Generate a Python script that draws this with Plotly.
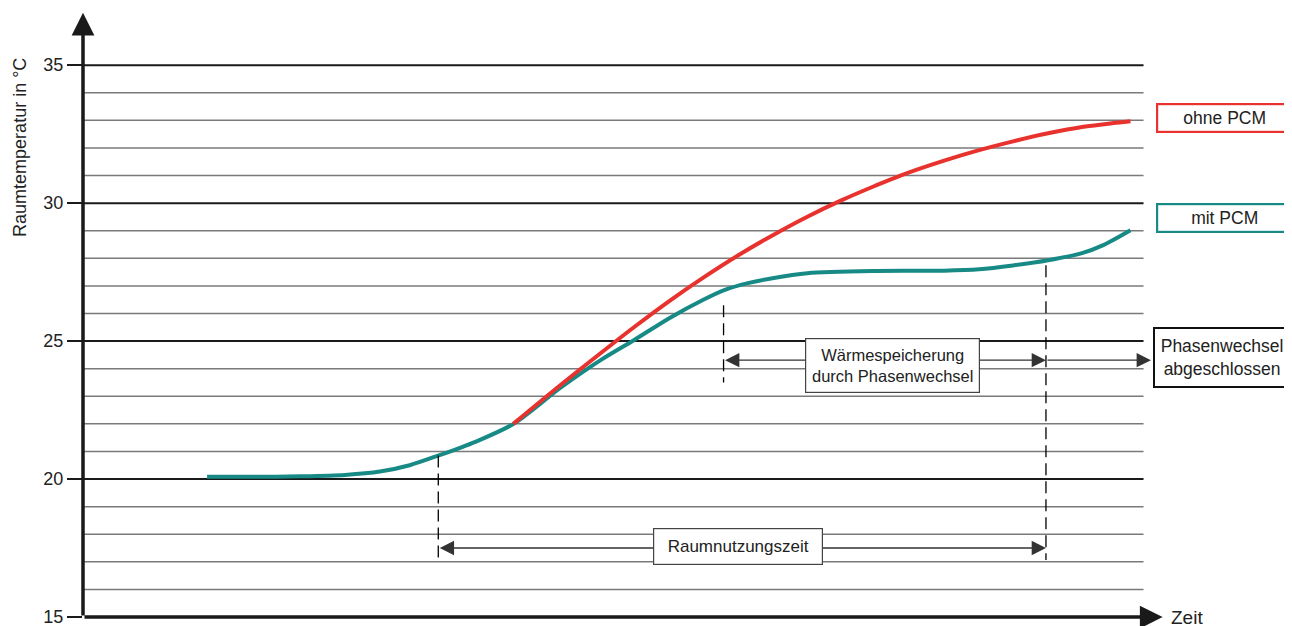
import plotly.graph_objects as go

# ---- data ----
time_mit = [11.7, 15.8, 20.5, 24.7, 28.0, 30.8, 33.5, 37.0, 40.6, 45.0, 48.77, 51.98, 55.28, 58.49, 60.47,
            62.7, 65.0, 68.3, 74.7, 81.2, 84.5, 87.7, 91.0, 94.2, 96.2, 98.77]
temp_mit = [20.08, 20.08, 20.1, 20.15, 20.27, 20.5, 20.85, 21.35, 22.0, 23.3, 24.3, 25.04, 25.83, 26.5, 26.85,
            27.1, 27.28, 27.46, 27.54, 27.55, 27.6, 27.74, 27.93, 28.19, 28.48, 29.02]
time_ohne = [40.57, 45.0, 48.77, 51.98, 55.28, 58.49, 61.79, 65.0, 68.3, 71.5, 74.7, 77.08, 81.2, 84.5, 87.7,
             91.0, 94.2, 98.77]
temp_ohne = [22.0, 23.4, 24.55, 25.51, 26.45, 27.3, 28.11, 28.83, 29.51, 30.1, 30.63, 31.0, 31.54, 31.92, 32.24,
             32.53, 32.76, 32.97]
y_ticks = [15, 20, 25, 30, 35]
grid_major = [20, 25, 30, 35]
grid_minor = [16, 17, 18, 19, 21, 22, 23, 24, 26, 27, 28, 29, 31, 32, 33, 34]

# key times
t_start_use = 33.5
t_phase_start = 60.4
t_phase_end = 90.8
t_grid_end = 100.0

FONT = "Liberation Sans, Arial, sans-serif"
RED = "#e8322e"
TEAL = "#178a85"
TXT = "#222222"

fig = go.Figure()
fig.add_trace(go.Scatter(x=time_mit, y=temp_mit, mode="lines", name="mit PCM",
                         line=dict(color=TEAL, width=4, shape="spline", smoothing=0.8)))
fig.add_trace(go.Scatter(x=time_ohne, y=temp_ohne, mode="lines", name="ohne PCM",
                         line=dict(color=RED, width=4, shape="spline", smoothing=0.8)))

shapes = []
for g in grid_minor:
    shapes.append(dict(type="line", xref="x", yref="y", x0=0, x1=t_grid_end, y0=g, y1=g,
                       line=dict(color="#7a7a7a", width=1.5), layer="below"))
for g in grid_major:
    shapes.append(dict(type="line", xref="x", yref="y", x0=0, x1=t_grid_end, y0=g, y1=g,
                       line=dict(color="#1a1a1a", width=2), layer="below"))

dash = "12px,6px"
shapes.append(dict(type="line", xref="x", yref="y", x0=t_start_use, x1=t_start_use, y0=20.85, y1=17.07,
                   line=dict(color="black", width=1.3, dash=dash)))
shapes.append(dict(type="line", xref="x", yref="y", x0=t_phase_start, x1=t_phase_start, y0=26.3, y1=23.5,
                   line=dict(color="black", width=1.3, dash=dash)))
shapes.append(dict(type="line", xref="x", yref="y", x0=t_phase_end, x1=t_phase_end, y0=27.75, y1=17.07,
                   line=dict(color="black", width=1.3, dash=dash)))

ann = []
# axis arrows
ann.append(dict(x=0, y=36.9, ax=0, ay=15, xref="x", yref="y", axref="x", ayref="y", text="",
                showarrow=True, arrowhead=2, arrowsize=1.3, arrowwidth=3.5, arrowcolor="#1a1a1a", standoff=0))
ann.append(dict(x=101.8, y=15, ax=0, ay=15, xref="x", yref="y", axref="x", ayref="y", text="",
                showarrow=True, arrowhead=2, arrowsize=1.3, arrowwidth=3.5, arrowcolor="#1a1a1a", standoff=0))

# dimension arrows
def dim(x0, x1, y, both=True):
    ann.append(dict(x=x1, y=y, ax=x0, ay=y, xref="x", yref="y", axref="x", ayref="y", text="",
                    showarrow=True, arrowhead=2, startarrowhead=2, arrowsize=2.2, startarrowsize=2.2,
                    arrowside="end+start" if both else "end",
                    arrowwidth=1.3, arrowcolor="#333333", standoff=0, startstandoff=0))
dim(t_start_use, t_phase_end, 17.5)
dim(t_phase_start, t_phase_end, 24.31)
dim(t_phase_end, 100.7, 24.31, both=False)

def box(x, y, text, w, h, color, bw, size=17):
    ann.append(dict(x=x, y=y, xref="x", yref="y", text=text, showarrow=False,
                    font=dict(family=FONT, size=size, color=TXT),
                    bgcolor="white", bordercolor=color, borderwidth=bw, borderpad=0,
                    width=w, height=h, align="center", valign="middle"))
box(61.8, 17.54, "Raumnutzungszeit", 168, 35, "#444444", 1.2, 17)
box(76.3, 24.13, "Wärmespeicherung<br>durch Phasenwechsel", 173, 53, "#444444", 1.2, 16.5)
box(107.4, 24.42, "Phasenwechsel<br>abgeschlossen", 134, 57, "#111111", 2, 17.5)
box(107.6, 33.08, "ohne PCM", 133, 26, RED, 2.2, 17.5)
box(107.6, 29.46, "mit PCM", 133, 26, TEAL, 2.2, 17.5)

ann.append(dict(x=102.4, y=15, xref="x", yref="y", text="Zeit", showarrow=False, xanchor="left",
                font=dict(family=FONT, size=19, color=TXT)))
ann.append(dict(x=-0.052, y=0.773, xref="paper", yref="paper", xanchor="center", yanchor="middle",
                text="Raumtemperatur in °C", showarrow=False,
                textangle=-90, font=dict(family=FONT, size=18, color=TXT)))

fig.update_layout(
    width=1292, height=626,
    margin=dict(l=75, r=8, t=2, b=17),
    paper_bgcolor="white", plot_bgcolor="white",
    showlegend=False,
    shapes=shapes, annotations=ann,
    xaxis=dict(range=[0, 114], showgrid=False, zeroline=False, showline=False, showticklabels=False, ticks=""),
    yaxis=dict(range=[15, 37], showgrid=False, zeroline=False, showline=False,
               tickvals=y_ticks, ticks="outside", ticklen=15, tickwidth=2, tickcolor="#1a1a1a",
               tickfont=dict(family=FONT, size=18, color=TXT)),
)

fig.write_html("out.html")
